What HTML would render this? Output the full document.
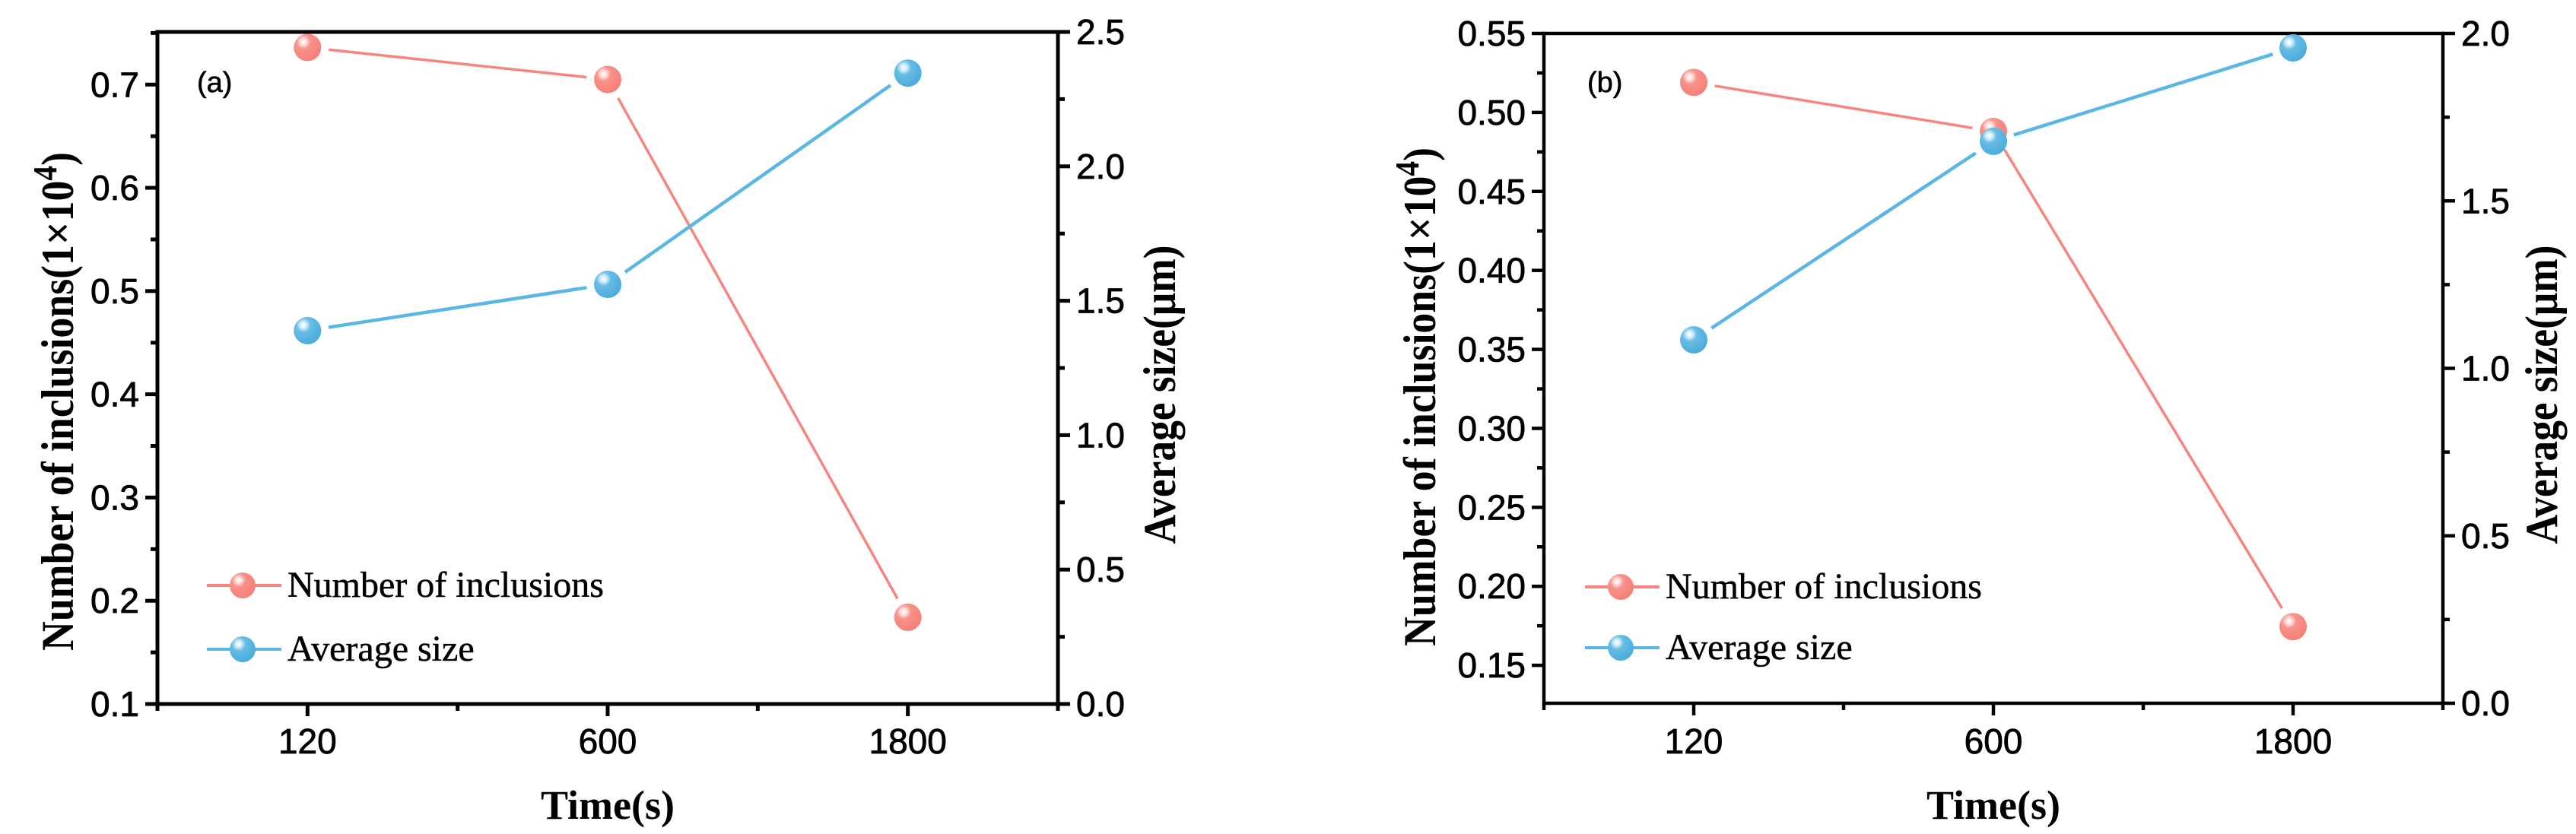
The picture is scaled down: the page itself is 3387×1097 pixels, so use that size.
<!DOCTYPE html>
<html><head><meta charset="utf-8"><style>
html,body{margin:0;padding:0;background:#fff;}
svg{display:block;}
</style></head><body>
<svg id="fig" width="3387" height="1097" viewBox="0 0 3387 1097" xmlns="http://www.w3.org/2000/svg">
<defs>
<radialGradient id="gr" cx="0.35" cy="0.3" r="0.75"><stop offset="0" stop-color="#fff"/><stop offset="0.15" stop-color="#fde0dc"/><stop offset="0.35" stop-color="#f9918a"/><stop offset="1" stop-color="#f47f76"/></radialGradient>
<radialGradient id="gb" cx="0.35" cy="0.3" r="0.75"><stop offset="0" stop-color="#fff"/><stop offset="0.15" stop-color="#d8eef9"/><stop offset="0.35" stop-color="#66bde6"/><stop offset="1" stop-color="#4aa9d9"/></radialGradient>
</defs>
</svg>
<script>
const categories = ["120","600","1800"];
const countA = [0.736, 0.705, 0.184];
const sizeA = [1.389, 1.561, 2.347];
const countB = [0.519, 0.488, 0.1745];
const sizeB = [1.085, 1.678, 1.957];
const leftTicksA = ["0.1","0.2","0.3","0.4","0.5","0.6","0.7"];
const rightTicksA = ["0.0","0.5","1.0","1.5","2.0","2.5"];
const leftTicksB = ["0.15","0.20","0.25","0.30","0.35","0.40","0.45","0.50","0.55"];
const rightTicksB = ["0.0","0.5","1.0","1.5","2.0"];

const svg = document.getElementById('fig');
const NS = 'http://www.w3.org/2000/svg';
function mk(tag, attrs, parent){
  const e = document.createElementNS(NS, tag);
  for (const k in attrs) e.setAttribute(k, attrs[k]);
  (parent||svg).appendChild(e);
  return e;
}
function chart(c){
  const g = mk('g', {});
  
  
  const xs = i => c.L + ((i + 1) - 0.5) / 3 * (c.R - c.L);
  const yl = v => c.B - (v - c.lmin) / (c.lmax - c.lmin) * (c.B - c.T);
  const yr = v => c.B - (v - 0) / c.rmax * (c.B - c.T);
  const lt = c.leftTicks.map(Number);
  const step = lt[1] - lt[0];
  for (let v = lt[0] - step / 2; v <= c.lmax + 1e-9; v += step / 2) {
    if (v < c.lmin - 1e-9) continue;
    const major = Math.abs(((v - lt[0]) / step) - Math.round((v - lt[0]) / step)) < 1e-6;
    const t = mk('line', {x1: c.L, x2: c.L - (major ? 16 : 9), y1: yl(v), y2: yl(v), stroke: '#000', 'stroke-width': c.sw}, g);
    
    
  }
  c.leftTicks.forEach(s => {
    const t = mk('text', {x: c.L - 24, y: yl(+s) + 16, 'text-anchor': 'end', 'font-size': 46, 'font-family': 'Liberation Sans, sans-serif', stroke: '#000', 'stroke-width': 0.8}, g);
    t.textContent = s;
    
    
  });
  for (let v = 0; v <= c.rmax + 1e-9; v += 0.25) {
    const major = Math.abs(v * 2 - Math.round(v * 2)) < 1e-6;
    const t = mk('line', {x1: c.R, x2: c.R + (major ? 16 : 9), y1: yr(v), y2: yr(v), stroke: '#000', 'stroke-width': c.sw}, g);
    
    
  }
  c.rightTicks.forEach(s => {
    const t = mk('text', {x: c.R + 24, y: yr(+s) + 16, 'font-size': 46, 'font-family': 'Liberation Sans, sans-serif', stroke: '#000', 'stroke-width': 0.8}, g);
    t.textContent = s;
    
    
  });
  for (let k = 0; k <= 6; k++) {
    const x = c.L + k / 6 * (c.R - c.L);
    const major = k % 2 === 1;
    const t = mk('line', {x1: x, x2: x, y1: c.B, y2: c.B + (major ? 16 : 9), stroke: '#000', 'stroke-width': c.sw}, g);
    
    
  }
  categories.forEach((s, i) => {
    const t = mk('text', {x: xs(i), y: 991, 'text-anchor': 'middle', 'font-size': 46, 'font-family': 'Liberation Sans, sans-serif', stroke: '#000', 'stroke-width': 0.8}, g);
    t.textContent = s;
    
    
  });
  const fr = mk('rect', {x: c.L, y: c.T, width: c.R - c.L, height: c.B - c.T, fill: 'none', stroke: '#000', 'stroke-width': c.sw}, g);
  
  
  const xt = mk('text', {x: (c.L + c.R) / 2, y: 1077, 'text-anchor': 'middle', 'font-size': 54, 'font-weight': 'bold', 'font-family': 'Liberation Serif, serif'}, g);
  xt.textContent = 'Time(s)';
  
  
  const ytl = mk('text', {x: 0, y: 0, 'text-anchor': 'middle', 'font-size': 60, 'font-weight': 'bold', 'font-family': 'Liberation Serif, serif', textLength: 656, lengthAdjust: 'spacingAndGlyphs', transform: `translate(${c.ltx + 20},${c.lty}) rotate(-90)`}, g);
  ytl.innerHTML = 'Number of inclusions(1×10<tspan dy="-22" font-size="44">4</tspan><tspan dy="22">)</tspan>';
  
  
  const ytr = mk('text', {x: 0, y: 0, 'text-anchor': 'middle', 'font-size': 60, 'font-weight': 'bold', 'font-family': 'Liberation Serif, serif', textLength: 393, lengthAdjust: 'spacingAndGlyphs', transform: `translate(${c.rtx + 20},${c.rty}) rotate(-90)`}, g);
  ytr.textContent = 'Average size(μm)';
  
  
  const pl = mk('text', {x: c.labX, y: 121, 'font-size': 38, 'font-family': 'Liberation Sans, sans-serif', stroke: '#000', 'stroke-width': 0.6}, g);
  pl.textContent = '(' + c.id + ')';
  
  
  function series(vals, yf, color, grad, lw, name) {
    const pts = vals.map((v, i) => [xs(i), yf(v)]);
    for (let i = 0; i < pts.length - 1; i++) {
      const [x1, y1] = pts[i], [x2, y2] = pts[i + 1];
      const d = Math.hypot(x2 - x1, y2 - y1), gap = 28;
      const ux = (x2 - x1) / d, uy = (y2 - y1) / d;
      const ln = mk('line', {x1: x1 + ux * gap, y1: y1 + uy * gap, x2: x2 - ux * gap, y2: y2 - uy * gap, stroke: color, 'stroke-width': lw}, g);
      
      
    }
    pts.forEach(p => {
      const m = mk('circle', {cx: p[0], cy: p[1], r: 18, fill: `url(#${grad})`}, g);
      
      
    });
  }
  series(c.count, yl, '#f7857d', 'gr', 3.5, 'number-of-inclusions');
  series(c.size, yr, '#5ab6e2', 'gb', 4.5, 'average-size');
  const leg = [[c.legY1, '#f7857d', 'gr', 'Number of inclusions', 'legend-entry-number'], [c.legY2, '#5ab6e2', 'gb', 'Average size', 'legend-entry-size']];
  leg.forEach(([y, col, gr, txt, nm]) => {
    const lg = mk('g', {}, g);
    
    
    mk('line', {x1: c.legX, x2: c.legX + 98, y1: y, y2: y, stroke: col, 'stroke-width': 4}, lg);
    mk('circle', {cx: c.legX + 47, cy: y, r: 17, fill: `url(#${gr})`}, lg);
    const t = mk('text', {x: c.legX + 106, y: y + 15, 'font-size': 48, 'font-family': 'Liberation Serif, serif', stroke: '#000', 'stroke-width': 0.5}, lg);
    t.textContent = txt;
  });
}
chart({id: 'a', L: 207, R: 1391, T: 42, B: 926, lmin: 0.1, lmax: 0.751, rmax: 2.5, sw: 5,
  leftTicks: leftTicksA, rightTicks: rightTicksA, count: countA, size: sizeA,
  ltx: 76, lty: 528, rtx: 1525, rty: 519, labX: 259, legX: 272, legY1: 770, legY2: 854});
chart({id: 'b', L: 2030, R: 3212, T: 44, B: 925, lmin: 0.126, lmax: 0.55, rmax: 2.0, sw: 4.5,
  leftTicks: leftTicksB, rightTicks: rightTicksB, count: countB, size: sizeB,
  ltx: 1867, lty: 522, rtx: 3342, rty: 519, labX: 2087, legX: 2084, legY1: 772, legY2: 852});
</script>
</body></html>
